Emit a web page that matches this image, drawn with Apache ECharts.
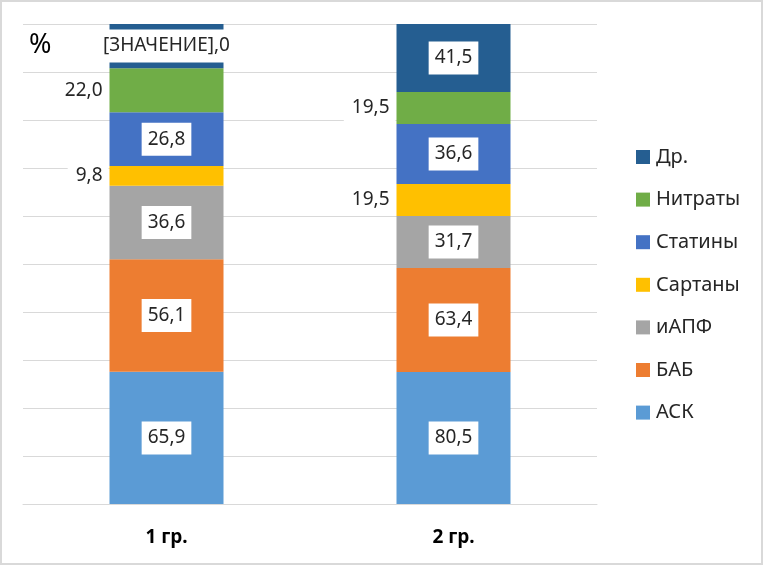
<!DOCTYPE html>
<html>
<head>
<meta charset="utf-8">
<script src="https://cdn.jsdelivr.net/npm/echarts@6/dist/echarts.min.js"></script>
<style>
html,body{margin:0;padding:0;background:#fff;}
#chart{width:763px;height:565px;}
</style>
</head>
<body>
<div id="chart"></div>
<script>
const categories = ['1 гр.', '2 гр.'];
const seriesNames = ['АСК', 'БАБ', 'иАПФ', 'Сартаны', 'Статины', 'Нитраты', 'Др.'];
const ask = [65.9, 80.5];
const bab = [56.1, 63.4];
const iapf = [36.6, 31.7];
const sartany = [9.8, 19.5];
const statiny = [26.8, 36.6];
const nitraty = [22.0, 19.5];
const dr = [22.0, 41.5];
const drLabels = ['[ЗНАЧЕНИЕ],0', '41,5'];
const yTicks = [0, 10, 20, 30, 40, 50, 60, 70, 80, 90, 100];

const values = [ask, bab, iapf, sartany, statiny, nitraty, dr];
const colors = ['#5B9BD5', '#ED7D31', '#A5A5A5', '#FFC000', '#4472C4', '#70AD47', '#255E91'];
const outsideSeries = ['Сартаны', 'Нитраты'];

const totals = categories.map((c, i) => values.reduce((s, arr) => s + arr[i], 0));
const fmt = v => v.toFixed(1).replace('.', ',');

const FONT = '"Noto Sans", sans-serif';

const series = seriesNames.map((name, si) => {
  const outside = outsideSeries.includes(name);
  return {
    name: name,
    type: 'bar',
    stack: 'total',
    barWidth: 114,
    itemStyle: { color: colors[si] },
    data: values[si].map((v, i) => v / totals[i] * 100),
    label: {
      show: true,
      position: outside ? 'left' : 'inside',
      distance: outside ? 1 : 5,
      backgroundColor: '#fff',
      padding: outside ? [5, 6, 5, 8] : [7, 6, 7, 6],
      color: '#262626',
      fontFamily: FONT,
      fontSize: 19,
      formatter: p => name === 'Др.' ? drLabels[p.dataIndex] : fmt(values[si][p.dataIndex])
    },
    emphasis: { disabled: true }
  };
});

const chart = echarts.init(document.getElementById('chart'), null, { renderer: 'canvas' });
chart.setOption({
  animation: false,
  backgroundColor: '#fff',
  textStyle: { fontFamily: FONT },
  grid: { left: 23, right: 166, top: 24, bottom: 61, containLabel: false },
  legend: {
    orient: 'vertical',
    left: 631,
    top: 142,
    itemWidth: 14,
    itemHeight: 14,
    itemGap: 22.6,
    icon: 'rect',
    data: seriesNames.slice().reverse(),
    textStyle: { fontFamily: FONT, fontSize: 20, color: '#262626', padding: [0, 0, 0, 1] }
  },
  xAxis: {
    type: 'category',
    data: categories,
    axisTick: { show: false },
    axisLine: { lineStyle: { color: '#D9D9D9' } },
    axisLabel: { margin: 24, fontFamily: FONT, fontSize: 19, fontWeight: 'bold', color: '#000' }
  },
  yAxis: {
    type: 'value',
    min: yTicks[0],
    max: yTicks[yTicks.length - 1],
    interval: yTicks[1] - yTicks[0],
    axisLabel: { show: false },
    axisLine: { show: false },
    axisTick: { show: false },
    splitLine: { lineStyle: { color: '#D9D9D9', width: 1 } }
  },
  graphic: [
    { type: 'rect', shape: { x: 1, y: 1, width: 761, height: 563 }, style: { fill: 'none', stroke: '#D9D9D9', lineWidth: 2 }, silent: true },
    { type: 'text', left: 29, top: 32, style: { text: '%', font: '27px "Noto Sans", sans-serif', fill: '#000' }, silent: true }
  ],
  series: series
});
</script>
</body>
</html>
